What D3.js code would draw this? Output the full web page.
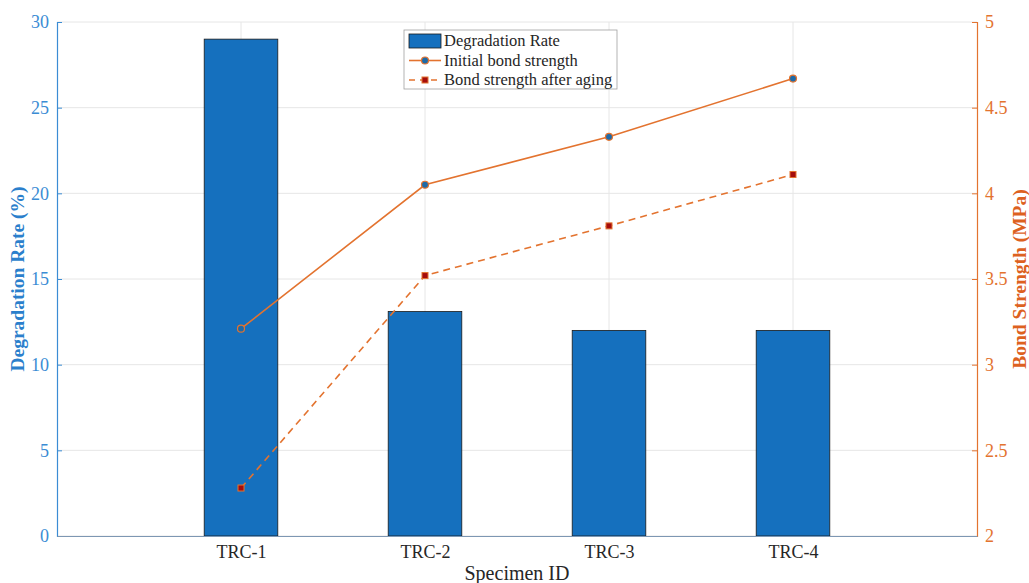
<!DOCTYPE html>
<html>
<head>
<meta charset="utf-8">
<script src="https://cdn.jsdelivr.net/npm/d3@7"></script>
<style>
  body { margin: 0; background: #fff; }
  text { font-family: "Liberation Serif", "Times New Roman", serif; }
</style>
</head>
<body>
<div id="chart"></div>
<script>
const categories = ['TRC-1', 'TRC-2', 'TRC-3', 'TRC-4'];
const degradationRate = [29, 13.1, 12, 12];
const initialStrength = [3.21, 4.05, 4.33, 4.67];
const agedStrength = [2.28, 3.52, 3.81, 4.11];
const leftTicks = [0, 5, 10, 15, 20, 25, 30];
const rightTicks = [2, 2.5, 3, 3.5, 4, 4.5, 5];

const width = 1029, height = 583;
const margin = { left: 57, right: 52, top: 22, bottom: 47 };
const innerW = width - margin.left - margin.right;
const innerH = height - margin.top - margin.bottom;
const serif = '"Liberation Serif", "Times New Roman", serif';

const blue = '#1570be';
const leftColor = '#3b8cd4';
const orange = '#e3732f';
const labelOrange = '#dd611f';

const svg = d3.select('#chart').append('svg')
  .attr('width', width)
  .attr('height', height);

const g = svg.append('g').attr('transform', `translate(${margin.left},${margin.top})`);

// x positions: categories at 1..4, limits 0..5
const x = d3.scaleLinear().domain([0, 5]).range([0, innerW]);
const yL = d3.scaleLinear().domain([0, 30]).range([innerH, 0]);
const yR = d3.scaleLinear().domain([2, 5]).range([innerH, 0]);
const barW = x(0.4) - x(0);

// grid
g.append('g').selectAll('line.h')
  .data(leftTicks)
  .join('line')
  .attr('x1', 0).attr('x2', innerW)
  .attr('y1', d => yL(d)).attr('y2', d => yL(d))
  .attr('stroke', '#e6e6e6').attr('stroke-width', 1);
g.append('g').selectAll('line.v')
  .data(categories)
  .join('line')
  .attr('x1', (d, i) => x(i + 1)).attr('x2', (d, i) => x(i + 1))
  .attr('y1', 0).attr('y2', innerH)
  .attr('stroke', '#e6e6e6').attr('stroke-width', 1);

// bars
g.append('g').selectAll('rect')
  .data(degradationRate)
  .join('rect')
  .attr('x', (d, i) => x(i + 1) - barW / 2)
  .attr('y', d => yL(d))
  .attr('width', barW)
  .attr('height', d => innerH - yL(d))
  .attr('fill', blue)
  .attr('stroke', '#1a1a1a')
  .attr('stroke-width', 0.8);

// lines
const lineGen = d3.line().x((d, i) => x(i + 1)).y(d => yR(d));
g.append('path')
  .datum(initialStrength)
  .attr('d', lineGen)
  .attr('fill', 'none')
  .attr('stroke', orange)
  .attr('stroke-width', 1.6);
g.append('path')
  .datum(agedStrength)
  .attr('d', lineGen)
  .attr('fill', 'none')
  .attr('stroke', orange)
  .attr('stroke-width', 1.6)
  .attr('stroke-dasharray', '7,5');

// markers
g.append('g').selectAll('circle')
  .data(initialStrength)
  .join('circle')
  .attr('cx', (d, i) => x(i + 1))
  .attr('cy', d => yR(d))
  .attr('r', 3.5)
  .attr('fill', '#1d6aa8')
  .attr('stroke', orange)
  .attr('stroke-width', 1.2);
g.append('g').selectAll('rect.sq')
  .data(agedStrength)
  .join('rect')
  .attr('x', (d, i) => x(i + 1) - 3)
  .attr('y', d => yR(d) - 3)
  .attr('width', 6)
  .attr('height', 6)
  .attr('fill', '#a50c0c')
  .attr('stroke', orange)
  .attr('stroke-width', 1);

// axes
const leftAxis = g.append('g')
  .attr('font-family', serif)
  .attr('font-size', 18)
  .call(d3.axisLeft(yL).tickValues(leftTicks).tickSize(-5).tickPadding(8));
leftAxis.attr('font-family', serif).attr('font-size', 18);
leftAxis.select('.domain').attr('stroke', leftColor).attr('stroke-width', 1.2);
leftAxis.selectAll('.tick line').attr('stroke', leftColor);
leftAxis.selectAll('.tick text').attr('fill', leftColor);

const rightAxis = g.append('g')
  .attr('transform', `translate(${innerW},0)`)
  .call(d3.axisRight(yR).tickValues(rightTicks).tickFormat(d3.format('')).tickSize(-5).tickPadding(8));
rightAxis.attr('font-family', serif).attr('font-size', 18);
rightAxis.select('.domain').attr('stroke', orange).attr('stroke-width', 1.2);
rightAxis.selectAll('.tick line').attr('stroke', orange);
rightAxis.selectAll('.tick text').attr('fill', orange);

const bottomAxis = g.append('g')
  .attr('transform', `translate(0,${innerH})`)
  .call(d3.axisBottom(x).tickValues([1, 2, 3, 4]).tickFormat(d => categories[d - 1]).tickSize(0).tickPadding(9));
bottomAxis.attr('font-family', serif).attr('font-size', 18);
bottomAxis.select('.domain').attr('stroke', '#7d97b3').attr('stroke-width', 1.2);
bottomAxis.selectAll('.tick text').attr('fill', '#262626');

// axis titles
svg.append('text')
  .attr('transform', `translate(24,${margin.top + yL(15)}) rotate(-90)`)
  .attr('text-anchor', 'middle')
  .attr('fill', '#2b7fcc')
  .style('font-size', '19.5px')
  .style('font-weight', 'bold')
  .text('Degradation Rate (%)');
svg.append('text')
  .attr('transform', `translate(1026,${margin.top + yR(3.5)}) rotate(-90)`)
  .attr('text-anchor', 'middle')
  .attr('fill', labelOrange)
  .style('font-size', '19.5px')
  .style('font-weight', 'bold')
  .text('Bond Strength (MPa)');
svg.append('text')
  .attr('x', margin.left + innerW / 2)
  .attr('y', 580)
  .attr('text-anchor', 'middle')
  .attr('fill', '#262626')
  .style('font-size', '20px')
  .text('Specimen ID');

// legend
const leg = svg.append('g').attr('transform', 'translate(404,30)');
leg.append('rect')
  .attr('width', 213).attr('height', 59)
  .attr('fill', '#fff').attr('stroke', '#a0a0a0').attr('stroke-width', 0.8);
const legItems = ['Degradation Rate', 'Initial bond strength', 'Bond strength after aging'];
legItems.forEach((name, i) => {
  const cy = 11 + i * 19.5;
  if (i === 0) {
    leg.append('rect').attr('x', 5).attr('y', cy - 7).attr('width', 32).attr('height', 14)
      .attr('fill', blue).attr('stroke', '#1a1a1a').attr('stroke-width', 0.8);
  } else if (i === 1) {
    leg.append('line').attr('x1', 5).attr('x2', 37).attr('y1', cy).attr('y2', cy)
      .attr('stroke', orange).attr('stroke-width', 1.6);
    leg.append('circle').attr('cx', 21).attr('cy', cy).attr('r', 3.5)
      .attr('fill', '#1d6aa8').attr('stroke', orange).attr('stroke-width', 1.2);
  } else {
    leg.append('line').attr('x1', 5).attr('x2', 37).attr('y1', cy).attr('y2', cy)
      .attr('stroke', orange).attr('stroke-width', 1.6).attr('stroke-dasharray', '6,5');
    leg.append('rect').attr('x', 18).attr('y', cy - 3).attr('width', 6).attr('height', 6)
      .attr('fill', '#a50c0c').attr('stroke', orange).attr('stroke-width', 1);
  }
  leg.append('text')
    .attr('x', 40).attr('y', cy + 5)
    .attr('fill', '#262626')
    .style('font-size', '16.5px')
    .text(name);
});
</script>
</body>
</html>
